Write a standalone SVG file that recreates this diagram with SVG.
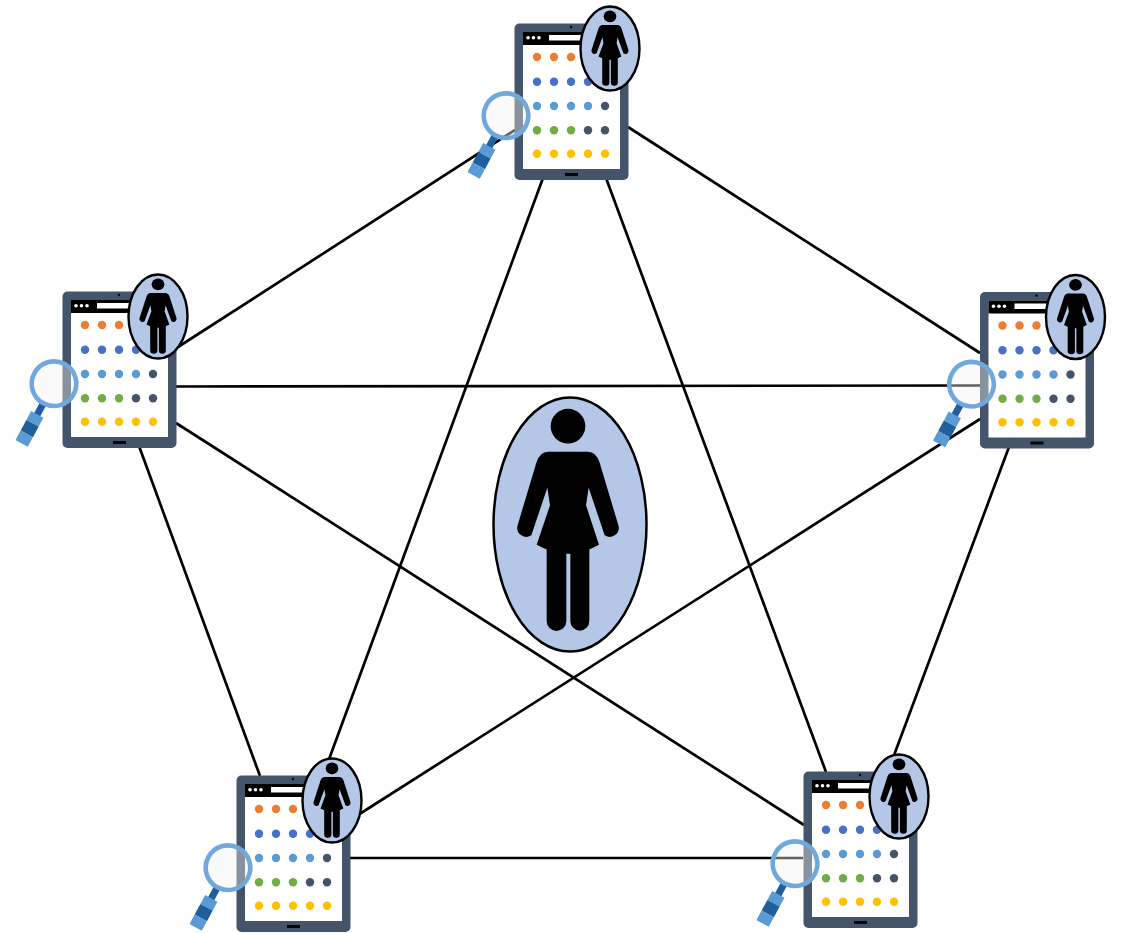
<svg xmlns="http://www.w3.org/2000/svg" xmlns:xlink="http://www.w3.org/1999/xlink" width="1122" height="933" viewBox="0 0 1122 933">
<style>
.c{stroke:#000;stroke-width:2.7;fill:none}
.e{fill:#b4c7e7;stroke:#000}
.o{fill:#ed7d31}.b{fill:#4472c4}.l{fill:#5b9bd5}.g{fill:#70ad47}.d{fill:#44546a}.y{fill:#ffc000}
</style>
<defs>
<g id="fig"><circle cx="0" cy="-295" r="52"/><path d="M-60,-218H60Q85,-218 95,-185L152,5A27,27 0 0 1 110,32L62,-110L54,-58L93,61L64,75V290A28,28 0 0 1 7,290V88H-5V290A29,29 0 0 1 -64,290V75L-94,61L-54,-58L-62,-110L-110,32A27,27 0 0 1 -152,5L-95,-185Q-85,-218 -60,-218Z"/></g>
<g id="tablet">
<rect x="0.5" y="0.5" width="114" height="156.5" rx="5" fill="#44546a"/>
<circle cx="57" cy="4" r="1.2" fill="#000"/>
<rect x="9" y="9" width="97" height="137" fill="#fff"/>
<rect x="9" y="9" width="97" height="13" fill="#000"/>
<rect x="35" y="12" width="41" height="5.5" fill="#fff"/>
<circle cx="14" cy="14.7" r="1.8" fill="#fff"/><circle cx="19.5" cy="14.7" r="1.8" fill="#fff"/><circle cx="25" cy="14.7" r="1.8" fill="#fff"/>
<rect x="51" y="150" width="13" height="3" fill="#000"/>
<g class="o"><circle cx="23" cy="34" r="4.2"/><circle cx="40" cy="34" r="4.2"/><circle cx="57" cy="34" r="4.2"/></g>
<g class="b"><circle cx="23" cy="58.7" r="4.2"/><circle cx="40" cy="58.7" r="4.2"/><circle cx="57" cy="58.7" r="4.2"/><circle cx="74" cy="58.7" r="4.2"/></g>
<g class="l"><circle cx="23" cy="83" r="4.2"/><circle cx="40" cy="83" r="4.2"/><circle cx="57" cy="83" r="4.2"/><circle cx="74" cy="83" r="4.2"/></g><circle class="d" cx="91" cy="83" r="4.2"/>
<g class="g"><circle cx="23" cy="107.3" r="4.2"/><circle cx="40" cy="107.3" r="4.2"/><circle cx="57" cy="107.3" r="4.2"/></g><circle class="d" cx="74" cy="107.3" r="4.2"/><circle class="d" cx="91" cy="107.3" r="4.2"/>
<g class="y"><circle cx="23" cy="130.7" r="4.2"/><circle cx="40" cy="130.7" r="4.2"/><circle cx="57" cy="130.7" r="4.2"/><circle cx="74" cy="130.7" r="4.2"/><circle cx="91" cy="130.7" r="4.2"/></g>
<ellipse class="e" cx="96" cy="25.5" rx="29.5" ry="42" stroke-width="2.4"/>
<use xlink:href="#fig" href="#fig" transform="translate(96,26.7) scale(.122,.113)"/>
<g transform="translate(-8,92.7) rotate(28.5)">
<rect x="-3.5" y="23" width="7" height="13" fill="#1f5f9e"/>
<rect x="-7" y="35" width="14" height="10" fill="#5b9bd5"/>
<rect x="-7" y="45" width="14" height="12" fill="#1f5f9e"/>
<rect x="-7" y="57" width="14" height="11" rx="1" fill="#5b9bd5"/>
<circle r="22.3" fill="#f2f2f2" fill-opacity=".4" stroke="#6fa8dc" stroke-width="4.6"/>
</g>
</g>
</defs>
<rect width="1122" height="933" fill="#fff"/>
<g id="connectors">
<line class="c" x1="178" y1="347" x2="515" y2="130"/>
<line class="c" x1="176" y1="386.500" x2="980" y2="385.500"/>
<line class="c" x1="628" y1="127" x2="980" y2="353"/>
<line class="c" x1="543" y1="178" x2="328" y2="762"/>
<line class="c" x1="606" y1="178" x2="826" y2="772"/>
<line class="c" x1="139" y1="446" x2="260" y2="776"/>
<line class="c" x1="176" y1="423" x2="804" y2="825"/>
<line class="c" x1="980" y1="419" x2="358" y2="815"/>
<line class="c" x1="1009" y1="447" x2="893" y2="758"/>
<line class="c" x1="350" y1="858" x2="803" y2="858"/>
</g>
<g id="center"><ellipse class="e" cx="570" cy="524.500" rx="76.500" ry="127" stroke-width="2.500"/><use xlink:href="#fig" href="#fig" transform="translate(568,524.500) scale(.3333)"/></g>
<g id="node-top"><use xlink:href="#tablet" href="#tablet" x="514" y="23"/></g>
<g id="node-left"><use xlink:href="#tablet" href="#tablet" x="62" y="291"/></g>
<g id="node-right"><use xlink:href="#tablet" href="#tablet" x="979.500" y="291.500"/></g>
<g id="node-bottom-left"><use xlink:href="#tablet" href="#tablet" x="236" y="775"/></g>
<g id="node-bottom-right"><use xlink:href="#tablet" href="#tablet" x="803" y="771"/></g>
</svg>
